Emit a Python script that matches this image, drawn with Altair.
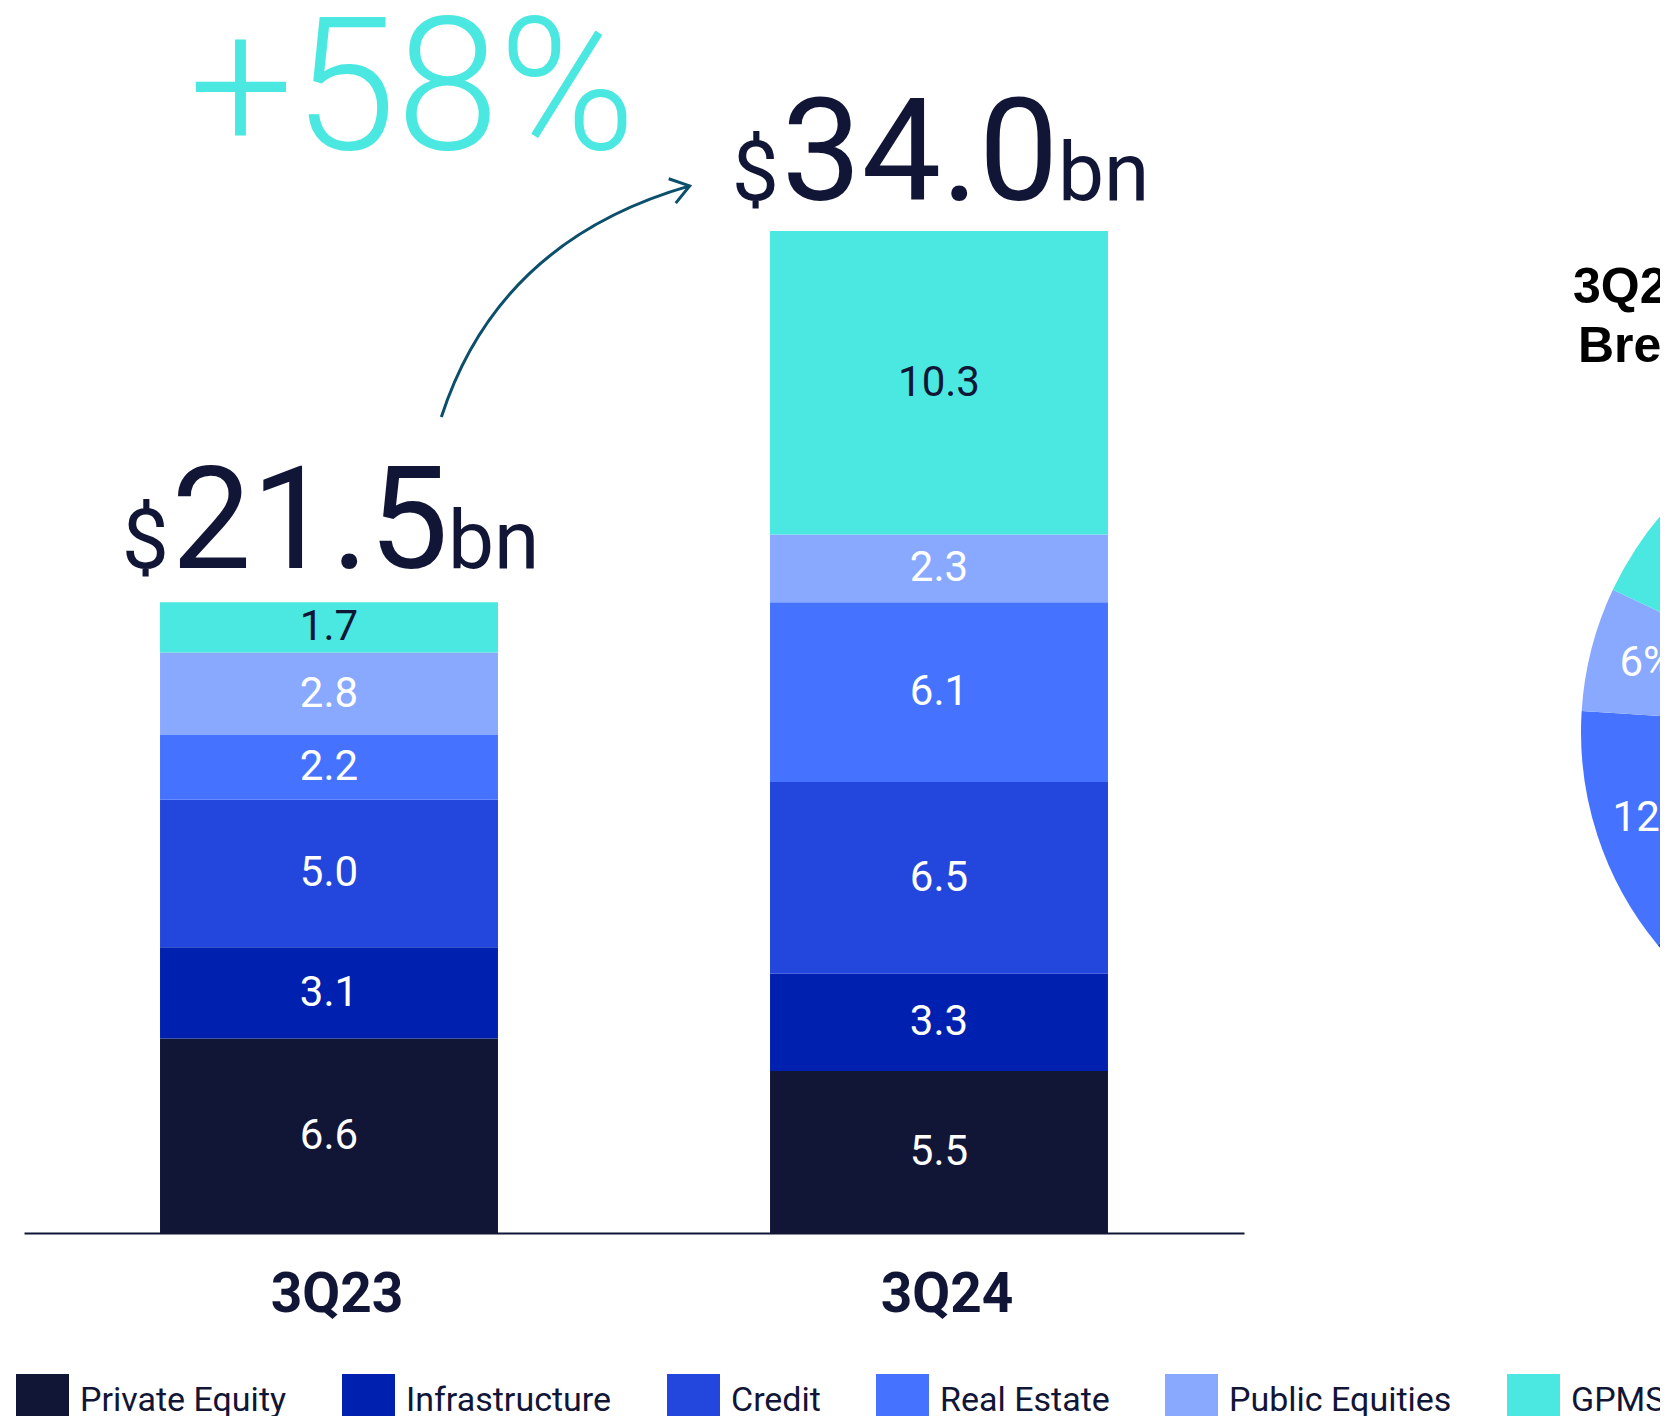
import altair as alt
import pandas as pd

# ---------------- data ----------------
quarters = ["3Q23", "3Q24"]
segments = ["Private Equity", "Infrastructure", "Credit", "Real Estate", "Public Equities", "GPMS"]
colors = ["#111536", "#0020B0", "#2346DC", "#4573FF", "#89A8FF", "#4AE8E0"]
values_3q23 = [6.6, 3.1, 5.0, 2.2, 2.8, 1.7]
values_3q24 = [5.5, 3.3, 6.5, 6.1, 2.3, 10.3]
totals = [21.5, 34.0]
pie_title_1 = "3Q24 LTM Fundraising"
pie_title_2 = "Breakdown by Platform"
pie_pct = [26, 14, 24, 12, 6, 18]

DARK = "#111536"
TEAL = "#4AE8E0"
ARROW = "#0B4F6C"
FONT = "Roboto"

rows = []
for q, vals in zip(quarters, [values_3q23, values_3q24]):
    for i, (s, v) in enumerate(zip(segments, vals)):
        rows.append({"quarter": q, "segment": s, "value": v, "idx": i})
bars_df = pd.DataFrame(rows)
tot_df = pd.DataFrame({"quarter": quarters, "total": totals})
pie_df = pd.DataFrame({"segment": segments, "pct": pie_pct, "idx": list(range(len(segments)))})
growth = round((totals[1] / totals[0] - 1) * 100)
growth_df = pd.DataFrame({"label": [f"+{growth}%"]})
title_df = pd.DataFrame({"l1": [pie_title_1], "l2": [pie_title_2]})

# ---------------- encodings ----------------
x_enc = alt.X(
    "quarter:N", sort=quarters, title=None,
    scale=alt.Scale(paddingInner=0.446, paddingOuter=0.223),
    axis=alt.Axis(labelAngle=0, ticks=False, tickSize=0, domainColor=DARK, domainWidth=2,
                  labelFont=FONT, labelFontSize=55, labelFontWeight="bold", labelColor=DARK,
                  labelPadding=78, labelBaseline="alphabetic", labelOffset=8, grid=False),
)
x_plain = alt.X("quarter:N", sort=quarters)
color_enc = alt.Color(
    "segment:N",
    scale=alt.Scale(domain=segments, range=colors),
    legend=alt.Legend(orient="none", legendX=-8, legendY=1143, direction="horizontal", title=None,
                      symbolType="square", symbolSize=2809, symbolStrokeWidth=0, symbolOpacity=1,
                      labelFont=FONT, labelFontSize=34, labelColor=DARK, labelOffset=11,
                      columnPadding=55, padding=0, labelLimit=1000),
)

bars = alt.Chart(bars_df).mark_bar().encode(
    x=x_enc,
    y=alt.Y("value:Q", stack="zero", scale=alt.Scale(domain=[0, 34], nice=False), axis=None),
    color=color_enc,
    order=alt.Order("idx:Q", sort="ascending"),
)

lab_base = alt.Chart(bars_df).transform_window(
    cum="sum(value)", groupby=["quarter"], sort=[alt.SortField("idx")], frame=[None, 0]
).transform_calculate(mid="datum.cum - datum.value / 2")

labels_white = lab_base.transform_filter(alt.datum.segment != "GPMS").mark_text(
    font=FONT, fontSize=42, color="white", baseline="middle"
).encode(x=x_plain, y=alt.Y("mid:Q"), text=alt.Text("value:Q", format=".1f"))

labels_dark = lab_base.transform_filter(alt.datum.segment == "GPMS").mark_text(
    font=FONT, fontSize=42, color=DARK, baseline="middle"
).encode(x=x_plain, y=alt.Y("mid:Q"), text=alt.Text("value:Q", format=".1f"))

tot_base = alt.Chart(tot_df).encode(x=x_plain, y=alt.Y("total:Q"))
tot_num = tot_base.mark_text(font=FONT, fontSize=142, color=DARK, baseline="alphabetic",
                             align="center", dx=-19, dy=-31).encode(text=alt.Text("total:Q", format=".1f"))
tot_dollar = tot_base.mark_text(font=FONT, fontSize=84, color=DARK, baseline="alphabetic",
                                align="right", dx=-160, dy=-31, text="$")
tot_bn = tot_base.mark_text(font=FONT, fontSize=82, color=DARK, baseline="alphabetic",
                            align="left", dx=119, dy=-31, text="bn")

growth_txt = alt.Chart(growth_df).mark_text(
    font=FONT, fontWeight=300, fontSize=185, color=TEAL, align="left", baseline="alphabetic"
).encode(x=alt.value(165), y=alt.value(-82), text="label:N")

arrow_path = ("M -0.955 0.889 Q -0.516 -0.467 0.955 -0.889 "
              "M 0.794 -0.944 L 0.955 -0.889 L 0.848 -0.757")
arrow = alt.Chart(growth_df).mark_point(
    shape=arrow_path, size=260 * 260, filled=False, stroke=ARROW, strokeWidth=3,
    opacity=1, fillOpacity=0
).encode(x=alt.value(541.5), y=alt.value(70.5))

pie = alt.Chart(pie_df).mark_arc(outerRadius=334).encode(
    theta=alt.Theta("pct:Q", stack=True),
    color=color_enc,
    order=alt.Order("idx:Q", sort="ascending"),
    x=alt.value(1891), y=alt.value(501),
)
pie_labels = alt.Chart(pie_df).transform_calculate(lab="datum.pct + '%'").mark_text(
    font=FONT, fontSize=42, color="white", radius=277
).encode(
    theta=alt.Theta("pct:Q", stack=True),
    order=alt.Order("idx:Q", sort="ascending"),
    text="lab:N",
    x=alt.value(1891), y=alt.value(501),
)
pie_t1 = alt.Chart(title_df).mark_text(
    font="Liberation Sans", fontWeight="bold", fontSize=50, color="black",
    align="left", baseline="alphabetic"
).encode(x=alt.value(1549), y=alt.value(72), text="l1:N")
pie_t2 = alt.Chart(title_df).mark_text(
    font="Liberation Sans", fontWeight="bold", fontSize=50, color="black",
    align="left", baseline="alphabetic"
).encode(x=alt.value(1554), y=alt.value(131), text="l2:N")

chart = alt.layer(
    bars, labels_white, labels_dark, tot_num, tot_dollar, tot_bn,
    growth_txt, arrow, pie, pie_labels, pie_t1, pie_t2
).properties(
    width=1220, height=1002,
    autosize=alt.AutoSizeParams(type="none"),
    padding={"left": 16, "top": 223, "right": 416, "bottom": 183},
    background="white",
).configure_view(strokeWidth=0)

chart.save("out.html", embed_options={"renderer": "svg", "actions": False})
